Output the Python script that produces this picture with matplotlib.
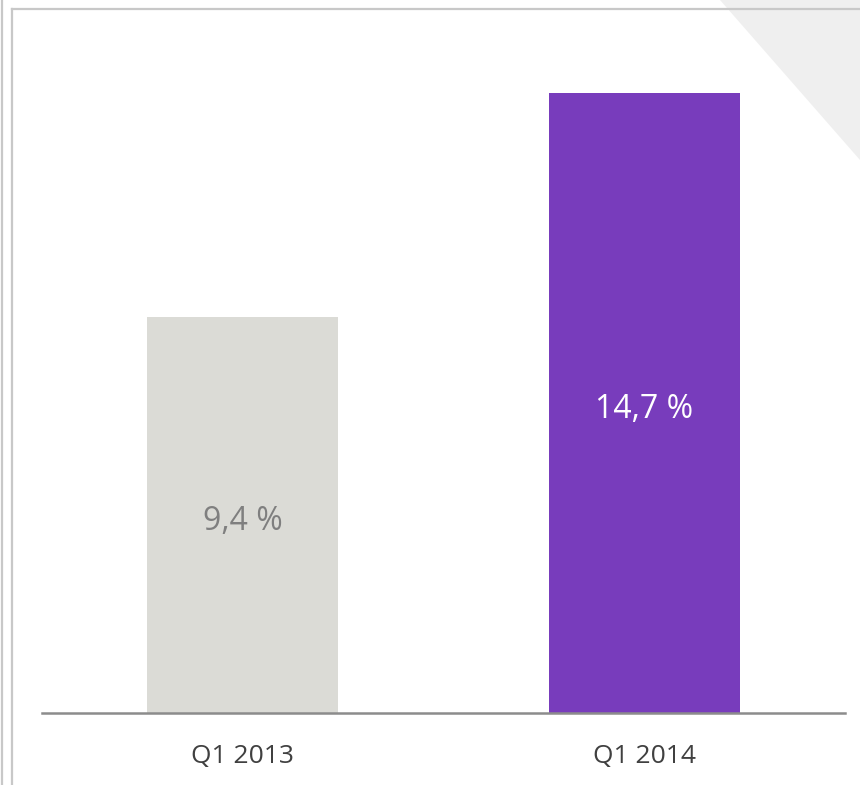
import matplotlib
matplotlib.use('Agg')
import matplotlib.pyplot as plt
from matplotlib.lines import Line2D
from matplotlib.patches import Polygon

plt.rcParams['font.family'] = ['Open Sans', 'DejaVu Sans']

categories = ['Q1 2013', 'Q1 2014']
values = [9.4, 14.7]
value_labels = ['9,4 %', '14,7 %']
bar_colors = ['#dbdbd6', '#783cbc']
label_colors = ['#7f7f7f', '#ffffff']

W, H = 860, 785
fig = plt.figure(figsize=(W / 100, H / 100), dpi=100)

# decorative frame and corner triangle
fig.patches.append(Polygon([(720 / W, 1), (1, 1), (1, 1 - 160 / H)], closed=True,
                           transform=fig.transFigure, facecolor='#efefef', edgecolor='none', zorder=0))
frame = '#c8c8c8'
fig.lines.append(Line2D([2 / W, 2 / W], [0, 1], transform=fig.transFigure, color=frame, lw=1.6))
fig.lines.append(Line2D([12 / W, 12 / W], [0, 1 - 9 / H], transform=fig.transFigure, color=frame, lw=1.6))
fig.lines.append(Line2D([12 / W, 1], [1 - 9 / H, 1 - 9 / H], transform=fig.transFigure, color=frame, lw=1.6))

# axes: x from 42 to 845 px, baseline at y=713 px, 16 units tall
left, right, bottom = 42, 845, 713
ymax = 16
px_per_unit = 620 / 14.7
top = bottom - ymax * px_per_unit
ax = fig.add_axes([left / W, 1 - bottom / H, (right - left) / W, (bottom - top) / H])
ax.patch.set_alpha(0)

x = range(len(categories))
bars = ax.bar(x, values, width=0.476, color=bar_colors, zorder=2)
for bar, v, lab, c in zip(bars, values, value_labels, label_colors):
    ax.annotate(lab, (bar.get_x() + bar.get_width() / 2, v / 2), xytext=(0, -5),
                textcoords='offset points', ha='center', va='center',
                fontsize=23, color=c)

ax.set_xlim(-0.5, 1.5)
ax.set_ylim(0, ymax)
ax.set_xticks(list(x))
ax.set_xticklabels(categories, fontsize=19, color='#404040')
ax.tick_params(axis='x', length=0, pad=22)
ax.set_yticks([])
for s in ['top', 'right', 'left']:
    ax.spines[s].set_visible(False)
ax.spines['bottom'].set_color('#8c8c8c')
ax.spines['bottom'].set_linewidth(1.8)
ax.spines['bottom'].set_zorder(3)

fig.savefig('out.png', dpi=100)
